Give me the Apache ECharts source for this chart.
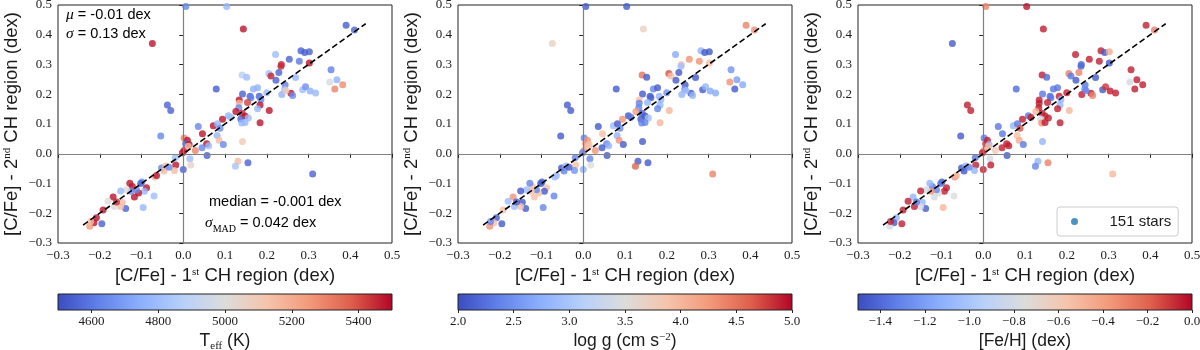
<!DOCTYPE html>
<html lang="en">
<head>
<meta charset="UTF-8">
<title>[C/Fe] from the two CH regions</title>
<script src="https://cdn.jsdelivr.net/npm/echarts@6/dist/echarts.min.js"></script>
<style>
  html, body { margin: 0; background: #fff; }
  #chart { width: 1200px; height: 350px; }
</style>
</head>
<body>
<div id="chart"></div>
<script>
// [C/Fe] from 1st CH region (x) vs 2nd CH region (y), one entry per star
const xs = [
  0.006, 0.104, -0.074, 0.144, 0.39, 0.41, 0.282, 0.291, 0.302, 0.221,
  0.254, 0.278, 0.302, 0.235, 0.234, 0.229, 0.205, 0.21, 0.354, 0.141,
  0.152, 0.222, 0.269, 0.368, 0.351, 0.363, 0.382, 0.079, 0.142, 0.168,
  0.178, 0.16, 0.162, 0.182, 0.186, 0.244, 0.243, 0.236, 0.258, 0.262,
  0.286, 0.293, 0.304, 0.317, 0.134, 0.154, 0.134, 0.133, 0.126, 0.141,
  0.184, 0.178, 0.206, 0.184, 0.148, 0.156, 0.138, 0.14, 0.148, 0.108,
  0.114, 0.094, 0.072, 0.082, 0.088, 0.036, 0.046, 0.081, 0.086, 0.096,
  0.142, 0.056, 0.061, 0.057, 0.045, 0.029, 0.002, 0.01, 0.006, 0.014,
  0.002, -0.002, 0.012, 0.016, 0.018, 0.0, -0.018, -0.021, -0.019, -0.038,
  -0.03, -0.054, -0.052, -0.042, -0.046, -0.034, -0.068, -0.064, -0.07, -0.088,
  -0.099, -0.102, -0.093, -0.096, -0.107, -0.112, -0.117, -0.122, -0.128, -0.125,
  -0.136, -0.15, -0.138, -0.146, -0.15, -0.165, -0.168, -0.16, -0.18, -0.192,
  -0.208, -0.195, -0.214, -0.224, -0.222, 0.155, 0.131, 0.125, 0.31, 0.246,
  0.2
];
const ys = [
  0.495, 0.495, 0.371, 0.419, 0.432, 0.416, 0.346, 0.34, 0.343, 0.334,
  0.318, 0.311, 0.305, 0.3, 0.294, 0.273, 0.27, 0.261, 0.282, 0.265,
  0.257, 0.247, 0.256, 0.249, 0.241, 0.218, 0.232, 0.218, 0.201, 0.218,
  0.222, 0.193, 0.188, 0.193, 0.182, 0.231, 0.217, 0.199, 0.203, 0.196,
  0.215, 0.225, 0.211, 0.204, 0.181, 0.172, 0.17, 0.155, 0.142, 0.136,
  0.164, 0.151, 0.145, 0.104, 0.127, 0.12, 0.117, 0.103, 0.105, 0.128,
  0.123, 0.116, 0.094, 0.101, 0.086, 0.092, 0.067, 0.061, 0.045, 0.031,
  0.041, 0.034, 0.027, -0.006, 0.02, 0.011, 0.053, 0.045, 0.034, 0.031,
  0.011, 0.003, 0.025, -0.017, -0.038, -0.053, -0.038, -0.056, -0.013, 0.164,
  0.145, 0.06, -0.048, -0.041, -0.058, -0.045, -0.078, -0.073, -0.142, -0.114,
  -0.095, -0.1, -0.126, -0.181, -0.132, -0.121, -0.145, -0.11, -0.099, -0.126,
  -0.121, -0.125, -0.184, -0.163, -0.177, -0.177, -0.145, -0.162, -0.16, -0.189,
  -0.215, -0.235, -0.232, -0.244, -0.228, -0.03, -0.025, -0.042, -0.068, 0.213,
  0.205
];
// colour quantities
const teff = [
  4640, 4780, 5480, 5480, 4540, 4560, 4550, 4540, 4550, 4800,
  4550, 4600, 5480, 5450, 5450, 4550, 4820, 5460, 4620, 4880,
  4800, 4550, 4780, 4760, 4980, 5300, 5280, 4540, 4550, 4760,
  4760, 4550, 4620, 4550, 4640, 4620, 4780, 4760, 5480, 4650,
  4800, 4660, 4760, 4780, 5480, 5420, 5150, 4640, 5480, 5450,
  5480, 4780, 5480, 5480, 5480, 4800, 4550, 4780, 4780, 4780,
  4800, 5480, 5480, 4780, 4650, 4640, 5480, 4780, 5150, 4640,
  5100, 5480, 4800, 4550, 4640, 5300, 5300, 5480, 4550, 5480,
  5480, 5480, 5150, 4800, 5050, 4550, 5480, 5150, 4800, 4550,
  4550, 4640, 4640, 5150, 5150, 4640, 5150, 5480, 4800, 5480,
  4640, 4550, 4780, 4780, 5480, 4640, 5480, 5480, 5480, 4640,
  5000, 4780, 4550, 5150, 5150, 5000, 5480, 5450, 5000, 5480,
  5480, 4550, 5480, 5250, 5150, 4550, 5150, 4820, 4550, 5100,
  4800
];
const logg = [
  2.1, 2.1, 3.7, 3.7, 4.4, 4.3, 2.8, 2.1, 2.1, 2.7,
  4.3, 4.3, 3.9, 3.9, 2.9, 2.1, 4.7, 3.9, 2.5, 4.5,
  2.1, 2.1, 2.1, 2.6, 4.3, 2.1, 2.7, 2.1, 2.1, 2.4,
  2.1, 2.1, 2.15, 2.8, 2.8, 2.1, 2.5, 2.8, 2.1, 2.8,
  2.1, 2.8, 2.7, 2.7, 3.9, 2.8, 2.4, 2.4, 4.2, 2.2,
  2.8, 2.4, 4.0, 4.0, 2.1, 2.9, 2.1, 2.4, 2.4, 2.1,
  2.3, 4.3, 2.9, 2.1, 2.4, 2.1, 3.9, 2.8, 4.3, 2.1,
  2.1, 2.4, 2.8, 2.1, 2.1, 4.3, 2.4, 4.3, 4.3, 3.9,
  4.3, 2.4, 3.9, 2.4, 3.5, 2.8, 3.9, 2.5, 2.4, 2.1,
  2.1, 2.1, 2.1, 2.9, 2.4, 2.1, 2.9, 2.9, 2.4, 3.9,
  2.1, 2.1, 2.1, 2.4, 3.9, 2.4, 3.9, 3.9, 2.4, 3.9,
  2.9, 2.1, 2.1, 2.1, 3.9, 2.9, 4.3, 2.1, 2.9, 3.9,
  2.1, 2.1, 3.9, 4.3, 2.4, 2.1, 2.1, 4.6, 4.4, 2.9,
  2.5
];
const feh = [
  -0.3, -0.03, -1.45, -0.05, -0.05, -0.3, -0.05, -1.45, -0.45, -0.05,
  -0.05, -0.05, -1.45, -1.4, -1.4, -0.3, -0.3, -1.35, -0.05, -0.05,
  -1.4, -1.45, -1.45, -0.05, -0.8, -0.05, -0.05, -1.4, -1.35, -1.35,
  -1.35, -1.4, -1.35, -0.05, -1.1, -1.35, -1.25, -0.05, -0.05, -0.3,
  -1.45, -0.1, -0.05, -0.05, -0.05, -0.05, -0.05, -0.05, -0.5, -0.05,
  -1.1, -0.05, -0.5, -0.05, -0.05, -0.05, -0.8, -0.35, -0.05, -1.35,
  -0.05, -0.05, -1.1, -1.35, -0.15, -1.35, -1.35, -0.55, -0.45, -1.35,
  -1.1, -0.05, -0.05, -1.45, -0.05, -0.6, -1.35, -0.05, -0.05, -1.1,
  -0.35, -0.05, -0.5, -0.8, -0.05, -0.05, -0.05, -1.1, -1.35, -0.05,
  -0.05, -1.45, -1.45, -1.1, -1.45, -1.3, -0.35, -0.5, -0.75, -0.05,
  -1.45, -1.35, -0.05, -0.5, -0.75, -1.3, -0.8, -1.35, -1.1, -0.35,
  -0.8, -0.05, -1.45, -1.1, -0.8, -0.05, -1.1, -1.35, -0.05, -0.05,
  -1.1, -0.05, -1.45, -0.8, -0.05, -0.3, -1.1, -1.3, -0.5, -1.3,
  -0.05
];

// 1:1 line end points and colourbar ranges / ticks
const oneToOne = [-0.24, 0.437];
const cbRanges = [[4500, 5500], [2.0, 5.0], [-1.5, 0.0]];
const cbTicks = [
  [4600, 4800, 5000, 5200, 5400],
  [2.0, 2.5, 3.0, 3.5, 4.0, 4.5, 5.0],
  [-1.4, -1.2, -1.0, -0.8, -0.6, -0.4, -0.2, 0.0]
];
const cbTitles = [
  '{t|T}{sub|eff}{t| (K)}',
  '{t|log g (cm s}{sup|−2}{t|)}',
  '{t|[Fe/H] (dex)}'
];

const coolwarm = ['#3b4cc0', '#6282ea', '#8db0fe', '#b8d0f9', '#dddcdc', '#f5c4ac', '#f49a7b', '#de604d', '#b40426'];
const colorVals = [teff, logg, feh];
const offsets = [0, 400, 800];

const SANS = 'Liberation Sans';
const SERIF = 'Liberation Serif';
const INK = '#1a1a1a';

function fmt(v, d) {
  if (Math.abs(v) < 1e-9) return (0).toFixed(d);
  return (v < 0 ? '−' : '') + Math.abs(v).toFixed(d);
}

function richFor(size) {
  return {
    t: { fontFamily: SANS, fontSize: size, color: INK, verticalAlign: 'top' },
    sup: { fontFamily: SERIF, fontSize: 11, color: INK, verticalAlign: 'top' },
    sub: { fontFamily: SERIF, fontSize: 11, color: INK, verticalAlign: 'top', padding: [9, 0, 0, 0] }
  };
}

const grids = [], xAxes = [], yAxes = [], series = [], visualMaps = [];

offsets.forEach((ox, i) => {
  grids.push({ left: ox + 58, top: 5, width: 334, height: 238, show: true,
    borderColor: '#222', borderWidth: 1, backgroundColor: 'transparent', outerBoundsMode: 'none' });
  const tickLabel = { fontFamily: SERIF, fontSize: 13, color: INK, formatter: v => fmt(v, 1),
    showMinLabel: true, showMaxLabel: true };
  xAxes.push({ gridIndex: i, type: 'value', min: -0.3, max: 0.5, interval: 0.1,
    axisLine: { show: false }, splitLine: { show: false },
    axisTick: { show: true, inside: false, length: 4, lineStyle: { color: '#222' } },
    axisLabel: Object.assign({ margin: 6 }, tickLabel),
    name: '{t|[C/Fe] - 1}{sup|st}{t| CH region (dex)}', nameLocation: 'middle', nameGap: 20,
    nameTextStyle: { rich: richFor(18.5) } });
  yAxes.push({ gridIndex: i, type: 'value', min: -0.3, max: 0.5, interval: 0.1,
    axisLine: { show: false }, splitLine: { show: false },
    axisTick: { show: true, inside: false, length: 4, lineStyle: { color: '#222' } },
    axisLabel: Object.assign({ margin: 6 }, tickLabel),
    name: '{t|[C/Fe] - 2}{sup|nd}{t| CH region (dex)}', nameLocation: 'middle', nameGap: 37,
    nameTextStyle: { rich: richFor(18.5) } });
});

// colourbars
offsets.forEach((ox, i) => {
  const gi = 3 + i;
  const stops = coolwarm.map((c, k) => ({ offset: k / (coolwarm.length - 1), color: c }));
  grids.push({ left: ox + 58, top: 294, width: 334, height: 16, show: true,
    borderColor: '#222', borderWidth: 1, outerBoundsMode: 'none',
    backgroundColor: new echarts.graphic.LinearGradient(0, 0, 1, 0, stops) });
  const dec = i === 0 ? 0 : 1;
  xAxes.push({ gridIndex: gi, type: 'value', min: cbRanges[i][0], max: cbRanges[i][1],
    position: 'bottom', axisLine: { show: false }, splitLine: { show: false },
    axisTick: { show: true, inside: false, length: 3, customValues: cbTicks[i], lineStyle: { color: '#222' } },
    axisLabel: { customValues: cbTicks[i], fontFamily: SERIF, fontSize: 13, color: INK, margin: 5,
      formatter: v => fmt(v, dec) },
    name: cbTitles[i], nameLocation: 'middle', nameGap: 22,
    nameTextStyle: { rich: richFor(17.5) } });
  yAxes.push({ gridIndex: gi, type: 'value', min: 0, max: 1, show: false });
});

offsets.forEach((ox, i) => {
  // zero reference lines
  series.push({ type: 'line', xAxisIndex: i, yAxisIndex: i, data: [], silent: true, z: 1,
    markLine: { silent: true, symbol: 'none', label: { show: false },
      lineStyle: { color: '#808080', width: 1.2, type: 'solid' },
      data: [{ xAxis: 0 }, { yAxis: 0 }] } });
  const si = series.length;
  series.push({ type: 'scatter', xAxisIndex: i, yAxisIndex: i, symbolSize: 7, z: 2,
    data: xs.map((x, k) => [x, ys[k], colorVals[i][k]]) });
  visualMaps.push({ show: false, seriesIndex: si, dimension: 2,
    min: cbRanges[i][0], max: cbRanges[i][1], inRange: { color: coolwarm } });
  series.push({ type: 'line', xAxisIndex: i, yAxisIndex: i, z: 5, silent: true,
    showSymbol: false, symbol: 'none',
    data: oneToOne.map(v => [v, v]),
    lineStyle: { color: '#000', width: 1.6, type: [6, 3] } });
});

// legend-only entry for the right panel
series.push({ type: 'scatter', name: '151 stars', xAxisIndex: 2, yAxisIndex: 2, data: [],
  itemStyle: { color: '#1f77b4' } });

const statRich = {
  n: { fontFamily: SANS, fontSize: 14.5, color: INK, lineHeight: 19, verticalAlign: 'top' },
  i: { fontFamily: SERIF, fontStyle: 'italic', fontSize: 15.5, color: INK, lineHeight: 19, verticalAlign: 'top' },
  sub: { fontFamily: SERIF, fontSize: 10, color: INK, verticalAlign: 'top', padding: [9, 0, 0, 0] }
};

const option = {
  animation: false,
  backgroundColor: '#fff',
  grid: grids,
  xAxis: xAxes,
  yAxis: yAxes,
  visualMap: visualMaps,
  series: series,
  legend: {
    data: ['151 stars'], left: 1057, top: 207, padding: [7, 7, 7, 14],
    itemWidth: 20, itemHeight: 7, icon: 'circle', selectedMode: false,
    textStyle: { fontFamily: SANS, fontSize: 15, color: INK, padding: [0, 0, 0, 20] },
    borderColor: '#cccccc', borderWidth: 1, borderRadius: 3,
    backgroundColor: 'rgba(255,255,255,0.8)'
  },
  graphic: [
    { type: 'text', left: 66, top: 7, style: { text: '{i|μ}{n| = -0.01 dex}\n{i|σ}{n| = 0.13 dex}', rich: statRich } },
    { type: 'text', left: 209, top: 194, style: { text: '{n|median = -0.001 dex}', rich: statRich } },
    { type: 'text', left: 205, top: 215, style: { text: '{i|σ}{sub|MAD}{n| = 0.042 dex}', rich: statRich } }
  ]
};

const chart = echarts.init(document.getElementById('chart'), null, { renderer: 'canvas' });
chart.setOption(option);
</script>
</body>
</html>
